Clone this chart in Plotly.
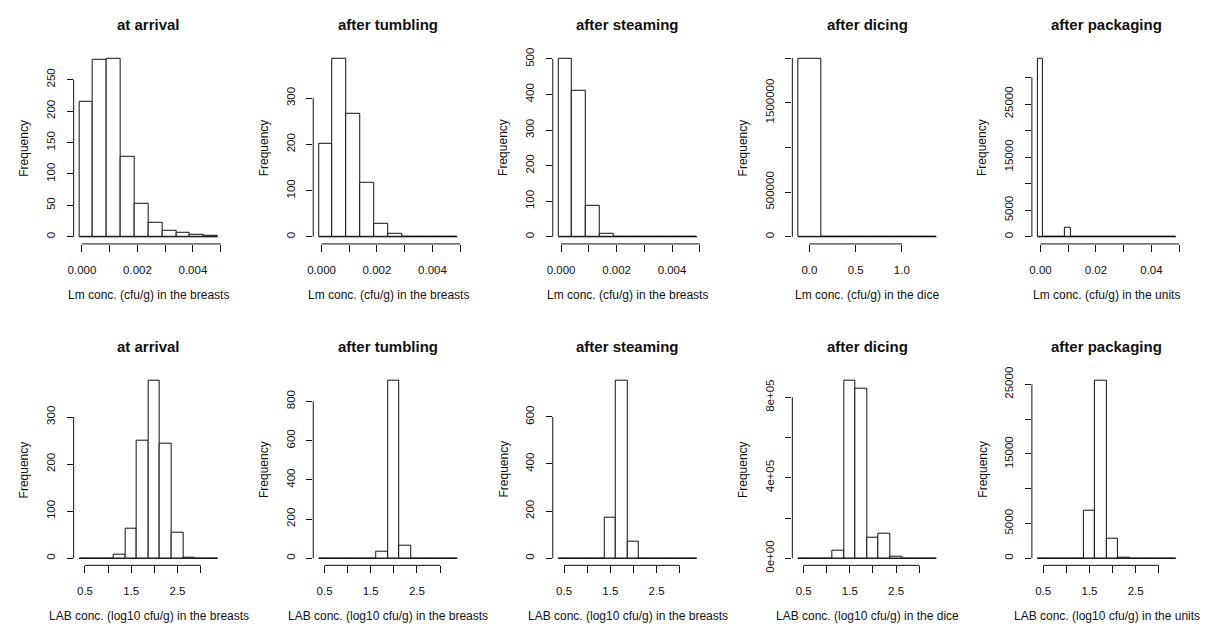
import numpy as np
import plotly.graph_objects as go

# ---------------- data ----------------
titles = ["at arrival", "after tumbling", "after steaming", "after dicing", "after packaging"]

lm_xlabels = ["Lm conc. (cfu/g) in the breasts", "Lm conc. (cfu/g) in the breasts",
              "Lm conc. (cfu/g) in the breasts", "Lm conc. (cfu/g) in the dice",
              "Lm conc. (cfu/g) in the units"]
lab_xlabels = ["LAB conc. (log10 cfu/g) in the breasts", "LAB conc. (log10 cfu/g) in the breasts",
               "LAB conc. (log10 cfu/g) in the breasts", "LAB conc. (log10 cfu/g) in the dice",
               "LAB conc. (log10 cfu/g) in the units"]

# bin edges (histogram breaks)
lm_breast_breaks = [-0.0001 + 0.0005 * k for k in range(11)]
lm_dice_breaks = [-0.125 + 0.25 * k for k in range(7)]
lm_unit_breaks = [-0.0011 + 0.002 * k for k in range(26)]
lab_breaks = [0.375 + 0.25 * k for k in range(13)]

# counts per bin
lm_arrival = [214, 282, 283, 128, 53, 23, 9, 7, 4, 1]
lm_tumbling = [201, 385, 266, 118, 28, 7, 0, 0, 0, 0]
lm_steaming = [500, 411, 87, 9, 0, 0, 0, 0, 0, 0]
lm_dicing = [1990000, 5000, 0, 0, 0, 0]
lm_packaging = [33500, 0, 0, 0, 0, 1700, 0, 0, 0, 0, 100, 0, 0, 0, 0,
                0, 0, 0, 0, 0, 0, 0, 0, 0, 0]

lab_arrival = [0, 0, 0, 7, 62, 249, 377, 243, 55, 2, 0, 0]
lab_tumbling = [0, 0, 0, 0, 0, 33, 905, 62, 0, 0, 0, 0]
lab_steaming = [0, 0, 0, 0, 171, 753, 72, 0, 0, 0, 0, 0]
lab_dicing = [0, 0, 0, 35600, 882600, 842100, 100400, 119800, 6000, 0, 0, 0]
lab_packaging = [0, 0, 0, 0, 6880, 25520, 2810, 100, 0, 0, 0, 0]

# tick values and labels
lm_breast_xticks = [0.000, 0.001, 0.002, 0.003, 0.004, 0.005]
lm_breast_xtext = ["0.000", "", "0.002", "", "0.004", ""]
lm_dice_xticks = [0.0, 0.5, 1.0]
lm_dice_xtext = ["0.0", "0.5", "1.0"]
lm_unit_xticks = [0.00, 0.01, 0.02, 0.03, 0.04, 0.05]
lm_unit_xtext = ["0.00", "", "0.02", "", "0.04", ""]
lab_xticks = [0.5, 1.0, 1.5, 2.0, 2.5, 3.0]
lab_xtext = ["0.5", "", "1.5", "", "2.5", ""]

yticks = [
    ([0, 50, 100, 150, 200, 250], ["0", "50", "100", "150", "200", "250"]),
    ([0, 100, 200, 300], ["0", "100", "200", "300"]),
    ([0, 100, 200, 300, 400, 500], ["0", "100", "200", "300", "400", "500"]),
    ([0, 500000, 1000000, 1500000, 2000000], ["0", "500000", "", "1500000", ""]),
    ([0, 5000, 10000, 15000, 20000, 25000, 30000], ["0", "5000", "", "15000", "", "25000", ""]),
    ([0, 100, 200, 300], ["0", "100", "200", "300"]),
    ([0, 200, 400, 600, 800], ["0", "200", "400", "600", "800"]),
    ([0, 200, 400, 600], ["0", "200", "400", "600"]),
    ([0, 200000, 400000, 600000, 800000], ["0e+00", "", "4e+05", "", "8e+05"]),
    ([0, 5000, 10000, 15000, 20000, 25000], ["0", "5000", "", "15000", "", "25000"]),
]

panels = [
    (lm_breast_breaks, lm_arrival, lm_breast_xticks, lm_breast_xtext),
    (lm_breast_breaks, lm_tumbling, lm_breast_xticks, lm_breast_xtext),
    (lm_breast_breaks, lm_steaming, lm_breast_xticks, lm_breast_xtext),
    (lm_dice_breaks, lm_dicing, lm_dice_xticks, lm_dice_xtext),
    (lm_unit_breaks, lm_packaging, lm_unit_xticks, lm_unit_xtext),
    (lab_breaks, lab_arrival, lab_xticks, lab_xtext),
    (lab_breaks, lab_tumbling, lab_xticks, lab_xtext),
    (lab_breaks, lab_steaming, lab_xticks, lab_xtext),
    (lab_breaks, lab_dicing, lab_xticks, lab_xtext),
    (lab_breaks, lab_packaging, lab_xticks, lab_xtext),
]
xtitles = lm_xlabels + lab_xlabels
ptitles = titles + titles

# ---------------- layout geometry (pixels) ----------------
W, H = 1210, 632
LEFT0, COLSTEP, PW = 68.0, 240.75, 150.5
ROWS = [(45.8, 242.3), (375.0, 571.0)]
FONT = "Liberation Sans, Arial, sans-serif"
INK = "#111111"

fig = go.Figure()
layout = dict(width=W, height=H, margin=dict(l=0, r=0, t=0, b=0),
              paper_bgcolor="white", plot_bgcolor="white", showlegend=False,
              font=dict(family=FONT, color=INK))
shapes = []
annotations = []

for i, (breaks, counts, xt, xtxt) in enumerate(panels):
    n = i + 1
    r, c = divmod(i, 5)
    xa = "x" if n == 1 else f"x{n}"
    ya = "y" if n == 1 else f"y{n}"
    left = LEFT0 + COLSTEP * c
    top, bot = ROWS[r]

    edges = np.array(breaks, dtype=float)
    cnt = np.array(counts, dtype=float)
    centers = (edges[:-1] + edges[1:]) / 2
    widths = np.diff(edges)

    # baseline (zero-height bins drawn as a flat line, like R)
    fig.add_trace(go.Scatter(x=[edges[0], edges[-1]], y=[0, 0], mode="lines",
                             line=dict(color=INK, width=1), xaxis=xa, yaxis=ya,
                             hoverinfo="skip"))
    fig.add_trace(go.Bar(x=centers, y=cnt, width=widths,
                         marker=dict(color="white", line=dict(color=INK, width=1)),
                         xaxis=xa, yaxis=ya))

    span = edges[-1] - edges[0]
    xr = [edges[0] - 0.04 * span, edges[-1] + 0.04 * span]
    ymax = cnt.max()
    yr = [-0.04 * ymax, 1.04 * ymax]
    yv, ytxt = yticks[i]

    layout["xaxis" if n == 1 else f"xaxis{n}"] = dict(
        domain=[left / W, (left + PW) / W], range=xr, anchor=ya,
        showgrid=False, zeroline=False, showline=False,
        tickmode="array", tickvals=xt, ticktext=xtxt,
        ticks="outside", ticklen=7, tickwidth=1, tickcolor=INK,
        tickfont=dict(size=11.5, color=INK, family=FONT), ticklabelstandoff=8,
        fixedrange=True)
    layout["yaxis" if n == 1 else f"yaxis{n}"] = dict(
        domain=[1 - bot / H, 1 - top / H], range=yr, anchor=xa,
        showgrid=False, zeroline=False, showline=False,
        tickmode="array", tickvals=yv, ticktext=ytxt, tickangle=-90,
        ticks="outside", ticklen=6, tickwidth=1, tickcolor=INK,
        tickfont=dict(size=11.5, color=INK, family=FONT), ticklabelstandoff=7,
        fixedrange=True)

    # axis lines spanning first..last tick (R style)
    shapes.append(dict(type="line", xref=xa, yref=f"{ya} domain",
                       x0=xt[0], x1=xt[-1], y0=0, y1=0,
                       line=dict(color=INK, width=1)))
    shapes.append(dict(type="line", xref=f"{xa} domain", yref=ya,
                       x0=0, x1=0, y0=yv[0], y1=yv[-1],
                       line=dict(color=INK, width=1)))

    cx = (left + PW / 2) / W
    annotations.append(dict(text=f"<b>{ptitles[i]}</b>", x=cx, y=1 - (top - 27.8) / H,
                            xref="paper", yref="paper", xanchor="center", yanchor="middle",
                            showarrow=False, font=dict(size=15, color=INK, family=FONT)))
    annotations.append(dict(text=xtitles[i], x=cx, y=1 - (bot + 51.8) / H,
                            xref="paper", yref="paper", xanchor="center", yanchor="middle",
                            showarrow=False, font=dict(size=12, color=INK, family=FONT)))
    annotations.append(dict(text="Frequency", x=(left - 50) / W, y=1 - ((top + bot) / 2) / H,
                            xref="paper", yref="paper", xanchor="center", yanchor="middle",
                            textangle=-90, showarrow=False,
                            font=dict(size=12, color=INK, family=FONT)))

layout["shapes"] = shapes
layout["annotations"] = annotations
layout["bargap"] = 0
fig.update_layout(**layout)
fig.write_html("out.html", config={"displayModeBar": False},
               post_script="document.documentElement.style.margin='0';"
                           "document.body.style.margin='0';document.body.style.padding='0';"
                           "document.body.style.overflow='hidden';")
